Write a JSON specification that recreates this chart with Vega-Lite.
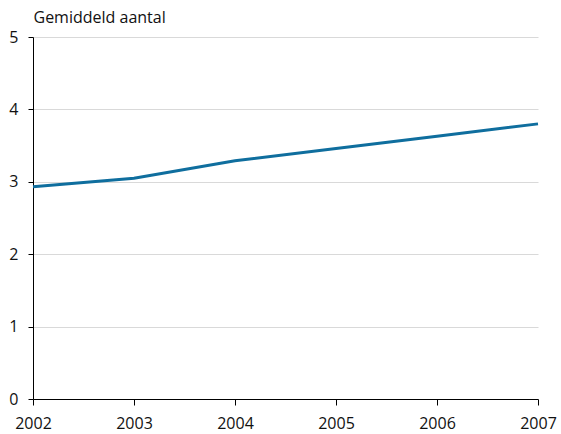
{
  "$schema": "https://vega.github.io/schema/vega-lite/v6.json",
  "autosize": {"type": "none"},
  "width": 505,
  "height": 362,
  "padding": {"left": 33, "top": 37, "right": 23, "bottom": 35},
  "background": "white",
  "config": {"view": {"stroke": null}, "font": "Open Sans"},
  "data": {"values": [
    {"jaar": 2002, "aantal": 2.93},
    {"jaar": 2003, "aantal": 3.05},
    {"jaar": 2004, "aantal": 3.29},
    {"jaar": 2005, "aantal": 3.46},
    {"jaar": 2006, "aantal": 3.63},
    {"jaar": 2007, "aantal": 3.80}
  ]},
  "mark": {"type": "line", "color": "#0f6e9e", "strokeWidth": 3},
  "encoding": {
    "x": {
      "field": "jaar", "type": "quantitative",
      "scale": {"domain": [2002, 2007], "nice": false, "zero": false},
      "axis": {
        "values": [2002, 2003, 2004, 2005, 2006, 2007],
        "format": "d", "grid": false, "title": null,
        "domainColor": "black", "tickColor": "black", "tickSize": 6,
        "labelFontSize": 16, "labelColor": "#111", "labelPadding": 10,
        "labelFlush": false
      }
    },
    "y": {
      "field": "aantal", "type": "quantitative",
      "scale": {"domain": [0, 5], "nice": false},
      "axis": {
        "values": [0, 0.5, 1, 1.5, 2, 2.5, 3, 3.5, 4, 4.5, 5],
        "format": "d",
        "labelExpr": "datum.value % 1 === 0 ? datum.label : ''",
        "gridOpacity": {"condition": {"test": "datum.value % 1 === 0 && datum.value > 0", "value": 1}, "value": 0},
        "gridColor": "#d9d9d9",
        "domainColor": "black", "tickColor": "black", "tickSize": 5,
        "labelFontSize": 16, "labelColor": "#111", "labelPadding": 10,
        "title": "Gemiddeld aantal", "titleAngle": 0, "titleAlign": "left",
        "titleX": 0, "titleY": -12, "titleFontSize": 16, "titleFontWeight": "normal",
        "titleColor": "#111", "titleBaseline": "bottom"
      }
    }
  }
}
